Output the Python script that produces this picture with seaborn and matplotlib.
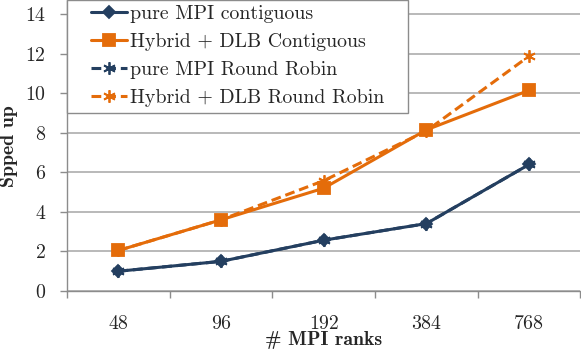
import pandas as pd
import matplotlib.pyplot as plt
import matplotlib.ticker as mticker
from matplotlib.patches import Rectangle
import seaborn as sns

ranks = ["48", "96", "192", "384", "768"]
mpi_contig = [1.0, 1.5, 2.57, 3.41, 6.4]
hybrid_contig = [2.05, 3.6, 5.2, 8.15, 10.15]
mpi_rr = [1.0, 1.5, 2.57, 3.41, 6.4]
hybrid_rr = [2.05, 3.6, 5.58, 8.1, 11.88]

blue = "#243F60"
orange = "#E46C0A"
grey = "#8C8C8C"
asterisk = (6, 2, 0)
fs = 14.3

sns.set_theme(style="white")
plt.rcParams["font.family"] = ["cmr10", "DejaVu Serif"]
plt.rcParams["axes.formatter.use_mathtext"] = True

fig, ax = plt.subplots(figsize=(5.81, 3.53), dpi=100)
fig.subplots_adjust(left=0.1153, right=0.999, top=0.999, bottom=0.1756)

series = [
    ("pure MPI contiguous", mpi_contig, blue, "-", "D", 6),
    ("Hybrid + DLB Contiguous", hybrid_contig, orange, "-", "s", 8),
    ("pure MPI Round Robin", mpi_rr, blue, (0, (3.2, 1.6)), asterisk, 9),
    ("Hybrid + DLB Round Robin", hybrid_rr, orange, (0, (3.2, 1.6)), asterisk, 9),
]
for name, vals, col, ls, mk, ms in series:
    df = pd.DataFrame({"rank": ranks, "speedup": vals})
    sns.lineplot(data=df, x="rank", y="speedup", ax=ax, color=col, linestyle=ls,
                 marker=mk, markersize=ms, markeredgecolor=col, markerfacecolor=col,
                 markeredgewidth=1.3, linewidth=2.2, label=name)

ax.set_xlim(-0.5, 4.5)
ax.set_ylim(0, 14.7)
ax.set_yticks(range(0, 15, 2))
ax.yaxis.grid(True, color="#A6A6A6", linewidth=1.1)
ax.set_axisbelow(True)

for s in ["top", "right"]:
    ax.spines[s].set_visible(False)
for s in ["left", "bottom"]:
    ax.spines[s].set_color(grey)
    ax.spines[s].set_linewidth(1.0)

ax.xaxis.set_minor_locator(mticker.FixedLocator([-0.5, 0.5, 1.5, 2.5, 3.5, 4.5]))
ax.tick_params(axis="x", which="major", length=0, pad=17, labelsize=fs)
ax.tick_params(axis="x", which="minor", bottom=True, length=5, width=1.0, color=grey)
ax.tick_params(axis="y", which="major", left=True, length=5, width=1.0, color=grey,
               pad=10, labelsize=fs)

ax.set_xlabel("# MPI ranks", fontsize=fs, fontfamily=["cmb10", "DejaVu Serif"], labelpad=-1)
ax.set_ylabel("Spped up", fontsize=fs, fontfamily=["cmb10", "DejaVu Serif"], labelpad=5)

# legend without its own frame, then a box with wider side padding
leg = ax.legend(loc="upper left", bbox_to_anchor=(24 / 513.5, 1 - 5 / 290.6), fontsize=fs,
                frameon=False, borderaxespad=0, borderpad=0, handlelength=1.8,
                handletextpad=0.15, labelspacing=0.5)
leg.set_zorder(5)
fig.canvas.draw()
bb = leg.get_window_extent().transformed(fig.transFigure.inverted())
px, py = 1 / 581, 1 / 353
x0 = ax.get_position().x0
box = Rectangle((x0, bb.y0 - 6 * py), bb.x1 + 24 * px - x0, 1 - bb.y0 + 6 * py,
                transform=fig.transFigure, facecolor="white", edgecolor=grey,
                linewidth=1.0, zorder=4)
ax.add_artist(box)
box.set_clip_on(False)

plt.savefig("out.png", dpi=100)
